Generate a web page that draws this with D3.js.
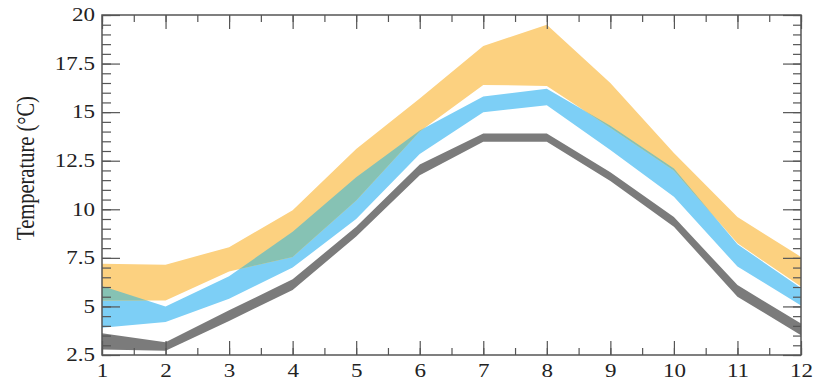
<!DOCTYPE html>
<html>
<head>
<meta charset="utf-8">
<script src="https://cdn.jsdelivr.net/npm/d3@7"></script>
<style>
  body { margin: 0; background: #fff; }
  text { font-family: "Liberation Serif", "DejaVu Serif", serif; fill: #222; }
</style>
</head>
<body>
<svg width="825" height="381"></svg>
<script>
const months = [1, 2, 3, 4, 5, 6, 7, 8, 9, 10, 11, 12];

const orangeHigh = [7.2, 7.15, 8.05, 9.95, 13.1, 15.7, 18.4, 19.5, 16.5, 12.9, 9.6, 7.55];
const orangeLow  = [5.3, 5.3, 6.8, 7.55, 10.45, 14.0, 16.4, 16.35, 14.2, 12.0, 8.25, 6.02];
const blueHigh   = [6.05, 5.0, 6.55, 8.85, 11.65, 14.05, 15.8, 16.2, 14.3, 12.1, 8.2, 5.95];
const blueLow    = [3.9, 4.2, 5.4, 7.0, 9.5, 12.85, 15.0, 15.35, 13.05, 10.65, 7.05, 5.05];
const grayHigh   = [3.62, 3.15, 4.8, 6.4, 9.1, 12.3, 13.9, 13.9, 11.9, 9.6, 6.1, 4.12];
const grayLow    = [2.78, 2.72, 4.25, 5.85, 8.6, 11.75, 13.48, 13.48, 11.45, 9.1, 5.5, 3.52];

const yMajor = [2.5, 5, 7.5, 10, 12.5, 15, 17.5, 20];
const yMinor = d3.range(2.5, 20.01, 0.5);
const xMinor = d3.range(1, 12.01, 0.5);

const svg = d3.select('svg');
const mLeft = 102, mRight = 801, mTop = 15, mBottom = 355;
const stretch = 1.28;

const x = d3.scaleLinear().domain([1, 12]).range([mLeft, mRight]);
const y = d3.scaleLinear().domain([2.5, 20]).range([mBottom, mTop]);

const band = (lo, hi) => months.map((m, i) => ({m, lo: lo[i], hi: hi[i]}));
const area = d3.area()
  .x(d => x(d.m))
  .y0(d => y(d.lo))
  .y1(d => y(d.hi));

const grayData = band(grayLow, grayHigh);
const blueData = band(blueLow, blueHigh);
const orangeData = band(orangeLow, orangeHigh);

svg.append('clipPath')
  .attr('id', 'blueClip')
  .append('path')
  .attr('d', area(blueData));

svg.append('path').attr('d', area(grayData)).attr('fill', '#7b7b7b');
svg.append('path').attr('d', area(blueData)).attr('fill', '#7dcff6');
svg.append('path').attr('d', area(orangeData)).attr('fill', '#fcd180');
// overlap of orange and blue
svg.append('path')
  .attr('d', area(orangeData))
  .attr('fill', '#86c2b4')
  .attr('clip-path', 'url(#blueClip)');

function styleAxis(g) {
  g.select('.domain').remove();
  g.selectAll('line').attr('stroke', '#555').attr('stroke-width', 1.2);
}

// minor ticks
svg.append('g').attr('transform', `translate(${mLeft},0)`)
  .call(d3.axisLeft(y).tickValues(yMinor).tickSize(-9).tickFormat(''))
  .call(styleAxis);
svg.append('g').attr('transform', `translate(${mRight},0)`)
  .call(d3.axisRight(y).tickValues(yMinor).tickSize(-8).tickFormat(''))
  .call(styleAxis);
svg.append('g').attr('transform', `translate(0,${mBottom})`)
  .call(d3.axisBottom(x).tickValues(xMinor).tickSize(-7).tickFormat(''))
  .call(styleAxis);
svg.append('g').attr('transform', `translate(0,${mTop})`)
  .call(d3.axisTop(x).tickValues(xMinor).tickSize(-7).tickFormat(''))
  .call(styleAxis);

// major ticks
const yAxis = svg.append('g').attr('transform', `translate(${mLeft},0)`)
  .call(d3.axisLeft(y).tickValues(yMajor).tickSize(-18).tickPadding(7).tickFormat(d3.format('')))
  .call(styleAxis);
svg.append('g').attr('transform', `translate(${mRight},0)`)
  .call(d3.axisRight(y).tickValues(yMajor).tickSize(-18).tickFormat(''))
  .call(styleAxis);
const xAxis = svg.append('g').attr('transform', `translate(0,${mBottom})`)
  .call(d3.axisBottom(x).tickValues(months).tickSize(-14).tickPadding(9))
  .call(styleAxis);
svg.append('g').attr('transform', `translate(0,${mTop})`)
  .call(d3.axisTop(x).tickValues(months).tickSize(-14).tickFormat(''))
  .call(styleAxis);

yAxis.selectAll('text')
  .attr('font-size', 18)
  .attr('font-family', '"Liberation Serif", serif')
  .attr('fill', '#222')
  .attr('x', -7 / stretch)
  .attr('transform', `scale(${stretch},1)`);
xAxis.selectAll('text')
  .attr('font-size', 18)
  .attr('font-family', '"Liberation Serif", serif')
  .attr('fill', '#222')
  .attr('transform', `scale(${stretch},1)`);

// frame
svg.append('rect')
  .attr('x', mLeft).attr('y', mTop)
  .attr('width', mRight - mLeft).attr('height', mBottom - mTop)
  .attr('fill', 'none')
  .attr('stroke', '#555')
  .attr('stroke-width', 1.5);

svg.append('text')
  .attr('transform', `translate(34,168) scale(${stretch},1) rotate(-90)`)
  .attr('text-anchor', 'middle')
  .attr('font-size', 20.5)
  .text('Temperature (°C)');
</script>
</body>
</html>
